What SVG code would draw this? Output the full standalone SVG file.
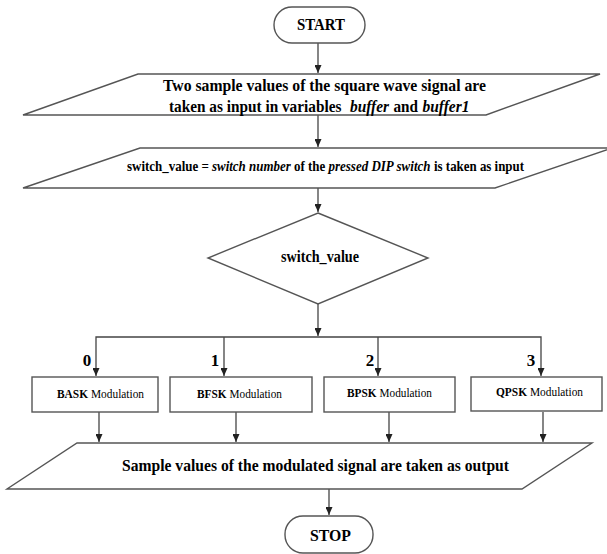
<svg xmlns="http://www.w3.org/2000/svg" width="607" height="554" viewBox="0 0 607 554">
<style>
.shape{fill:#fff;stroke:#555;stroke-width:1.4}
.conn{fill:none;stroke:#444;stroke-width:1.3}
.t{font-family:'Liberation Serif','Times New Roman',Times,serif;fill:#000}
.b{font-weight:bold}
.bi{font-weight:bold;font-style:italic}
.r{font-weight:normal}
</style>
<defs>
<marker id="ah" markerUnits="userSpaceOnUse" markerWidth="8" markerHeight="7" refX="8" refY="3.5" orient="auto">
<path d="M0,0 L8,3.5 L0,7 z" fill="#222"/>
</marker>
</defs>
<rect width="607" height="554" fill="#fff"/>
<g id="connectors">
<path class="conn" d="M318,43 V73" marker-end="url(#ah)"/>
<path class="conn" d="M318,115 V147" marker-end="url(#ah)"/>
<path class="conn" d="M318,188 V212" marker-end="url(#ah)"/>
<path class="conn" d="M318,304 V336" marker-end="url(#ah)"/>
<path class="conn" d="M318,337 H96 V376" marker-end="url(#ah)"/>
<path class="conn" d="M224,337 V376" marker-end="url(#ah)"/>
<path class="conn" d="M378,337 V376" marker-end="url(#ah)"/>
<path class="conn" d="M318,337 H541 V376" marker-end="url(#ah)"/>
<path class="conn" d="M99,412 V442" marker-end="url(#ah)"/>
<path class="conn" d="M236,412 V442" marker-end="url(#ah)"/>
<path class="conn" d="M389,412 V442" marker-end="url(#ah)"/>
<path class="conn" d="M543,412 V442" marker-end="url(#ah)"/>
<path class="conn" d="M329,489 V515" marker-end="url(#ah)"/>
<text class="t b" x="87" y="366" font-size="17" text-anchor="middle">0</text>
<text class="t b" x="215" y="366" font-size="17" text-anchor="middle">1</text>
<text class="t b" x="370" y="366" font-size="17" text-anchor="middle">2</text>
<text class="t b" x="531" y="366" font-size="17" text-anchor="middle">3</text>
</g>
<g id="start">
<rect class="shape" x="274" y="7" width="91" height="36" rx="18"/>
<text class="t b" x="297" y="30" font-size="16" textLength="48" lengthAdjust="spacingAndGlyphs">START</text>
</g>
<g id="input1">
<polygon class="shape" points="138,74 600,74 486,115 23,115"/>
<text class="t b" x="163" y="91" font-size="17" textLength="323" lengthAdjust="spacingAndGlyphs">Two sample values of the square wave signal are</text>
<text class="t b" transform="translate(169,111.5) scale(0.9,1)" x="0" y="0" font-size="17">taken as input in variables</text>
<text class="t bi" x="350" y="111.5" font-size="16" textLength="39" lengthAdjust="spacingAndGlyphs">buffer</text>
<text class="t b" x="393.5" y="111.5" font-size="17" textLength="24.5" lengthAdjust="spacingAndGlyphs">and</text>
<text class="t bi" x="422.5" y="111.5" font-size="16" textLength="47" lengthAdjust="spacingAndGlyphs">buffer1</text>
</g>
<g id="input2">
<polygon class="shape" points="140,148 612,148 495,188 23,188"/>
<text class="t b" x="127" y="171" font-size="14" textLength="81.8" lengthAdjust="spacingAndGlyphs">switch_value =</text>
<text class="t bi" x="212" y="171" font-size="14" textLength="78.7" lengthAdjust="spacingAndGlyphs">switch number</text>
<text class="t b" x="294" y="171" font-size="14" textLength="31.3" lengthAdjust="spacingAndGlyphs">of the</text>
<text class="t bi" x="328.5" y="171" font-size="14" textLength="102" lengthAdjust="spacingAndGlyphs">pressed DIP switch</text>
<text class="t b" x="434" y="171" font-size="14" textLength="90" lengthAdjust="spacingAndGlyphs">is taken as input</text>
</g>
<g id="decision">
<polygon class="shape" points="318,213 428,258 318,304 208,258"/>
<text class="t b" x="281" y="262" font-size="17" textLength="78" lengthAdjust="spacingAndGlyphs">switch_value</text>
</g>
<g id="bask">
<rect class="shape" x="32" y="377" width="126" height="35"/>
<text class="t b" x="57" y="398" font-size="13" textLength="31" lengthAdjust="spacingAndGlyphs">BASK</text>
<text class="t r" x="91" y="398" font-size="13" textLength="53" lengthAdjust="spacingAndGlyphs">Modulation</text>
</g>
<g id="bfsk">
<rect class="shape" x="170" y="377" width="142" height="35"/>
<text class="t b" x="197" y="398" font-size="13" textLength="29.5" lengthAdjust="spacingAndGlyphs">BFSK</text>
<text class="t r" x="229.5" y="398" font-size="13" textLength="52.5" lengthAdjust="spacingAndGlyphs">Modulation</text>
</g>
<g id="bpsk">
<rect class="shape" x="324" y="377" width="131" height="35"/>
<text class="t b" x="347" y="397" font-size="13" textLength="29.5" lengthAdjust="spacingAndGlyphs">BPSK</text>
<text class="t r" x="379.5" y="397" font-size="13" textLength="52.5" lengthAdjust="spacingAndGlyphs">Modulation</text>
</g>
<g id="qpsk">
<rect class="shape" x="471" y="377" width="131" height="34"/>
<text class="t b" x="496" y="396" font-size="13" textLength="31" lengthAdjust="spacingAndGlyphs">QPSK</text>
<text class="t r" x="530" y="396" font-size="13" textLength="53" lengthAdjust="spacingAndGlyphs">Modulation</text>
</g>
<g id="output">
<polygon class="shape" points="77,443 592,443 522,489 7,489"/>
<text class="t b" x="122" y="471" font-size="17" textLength="387" lengthAdjust="spacingAndGlyphs">Sample values of the modulated signal are taken as output</text>
</g>
<g id="stop">
<rect class="shape" x="285" y="516" width="88" height="37" rx="18"/>
<text class="t b" x="310" y="541" font-size="17" textLength="41" lengthAdjust="spacingAndGlyphs">STOP</text>
</g>
</svg>
